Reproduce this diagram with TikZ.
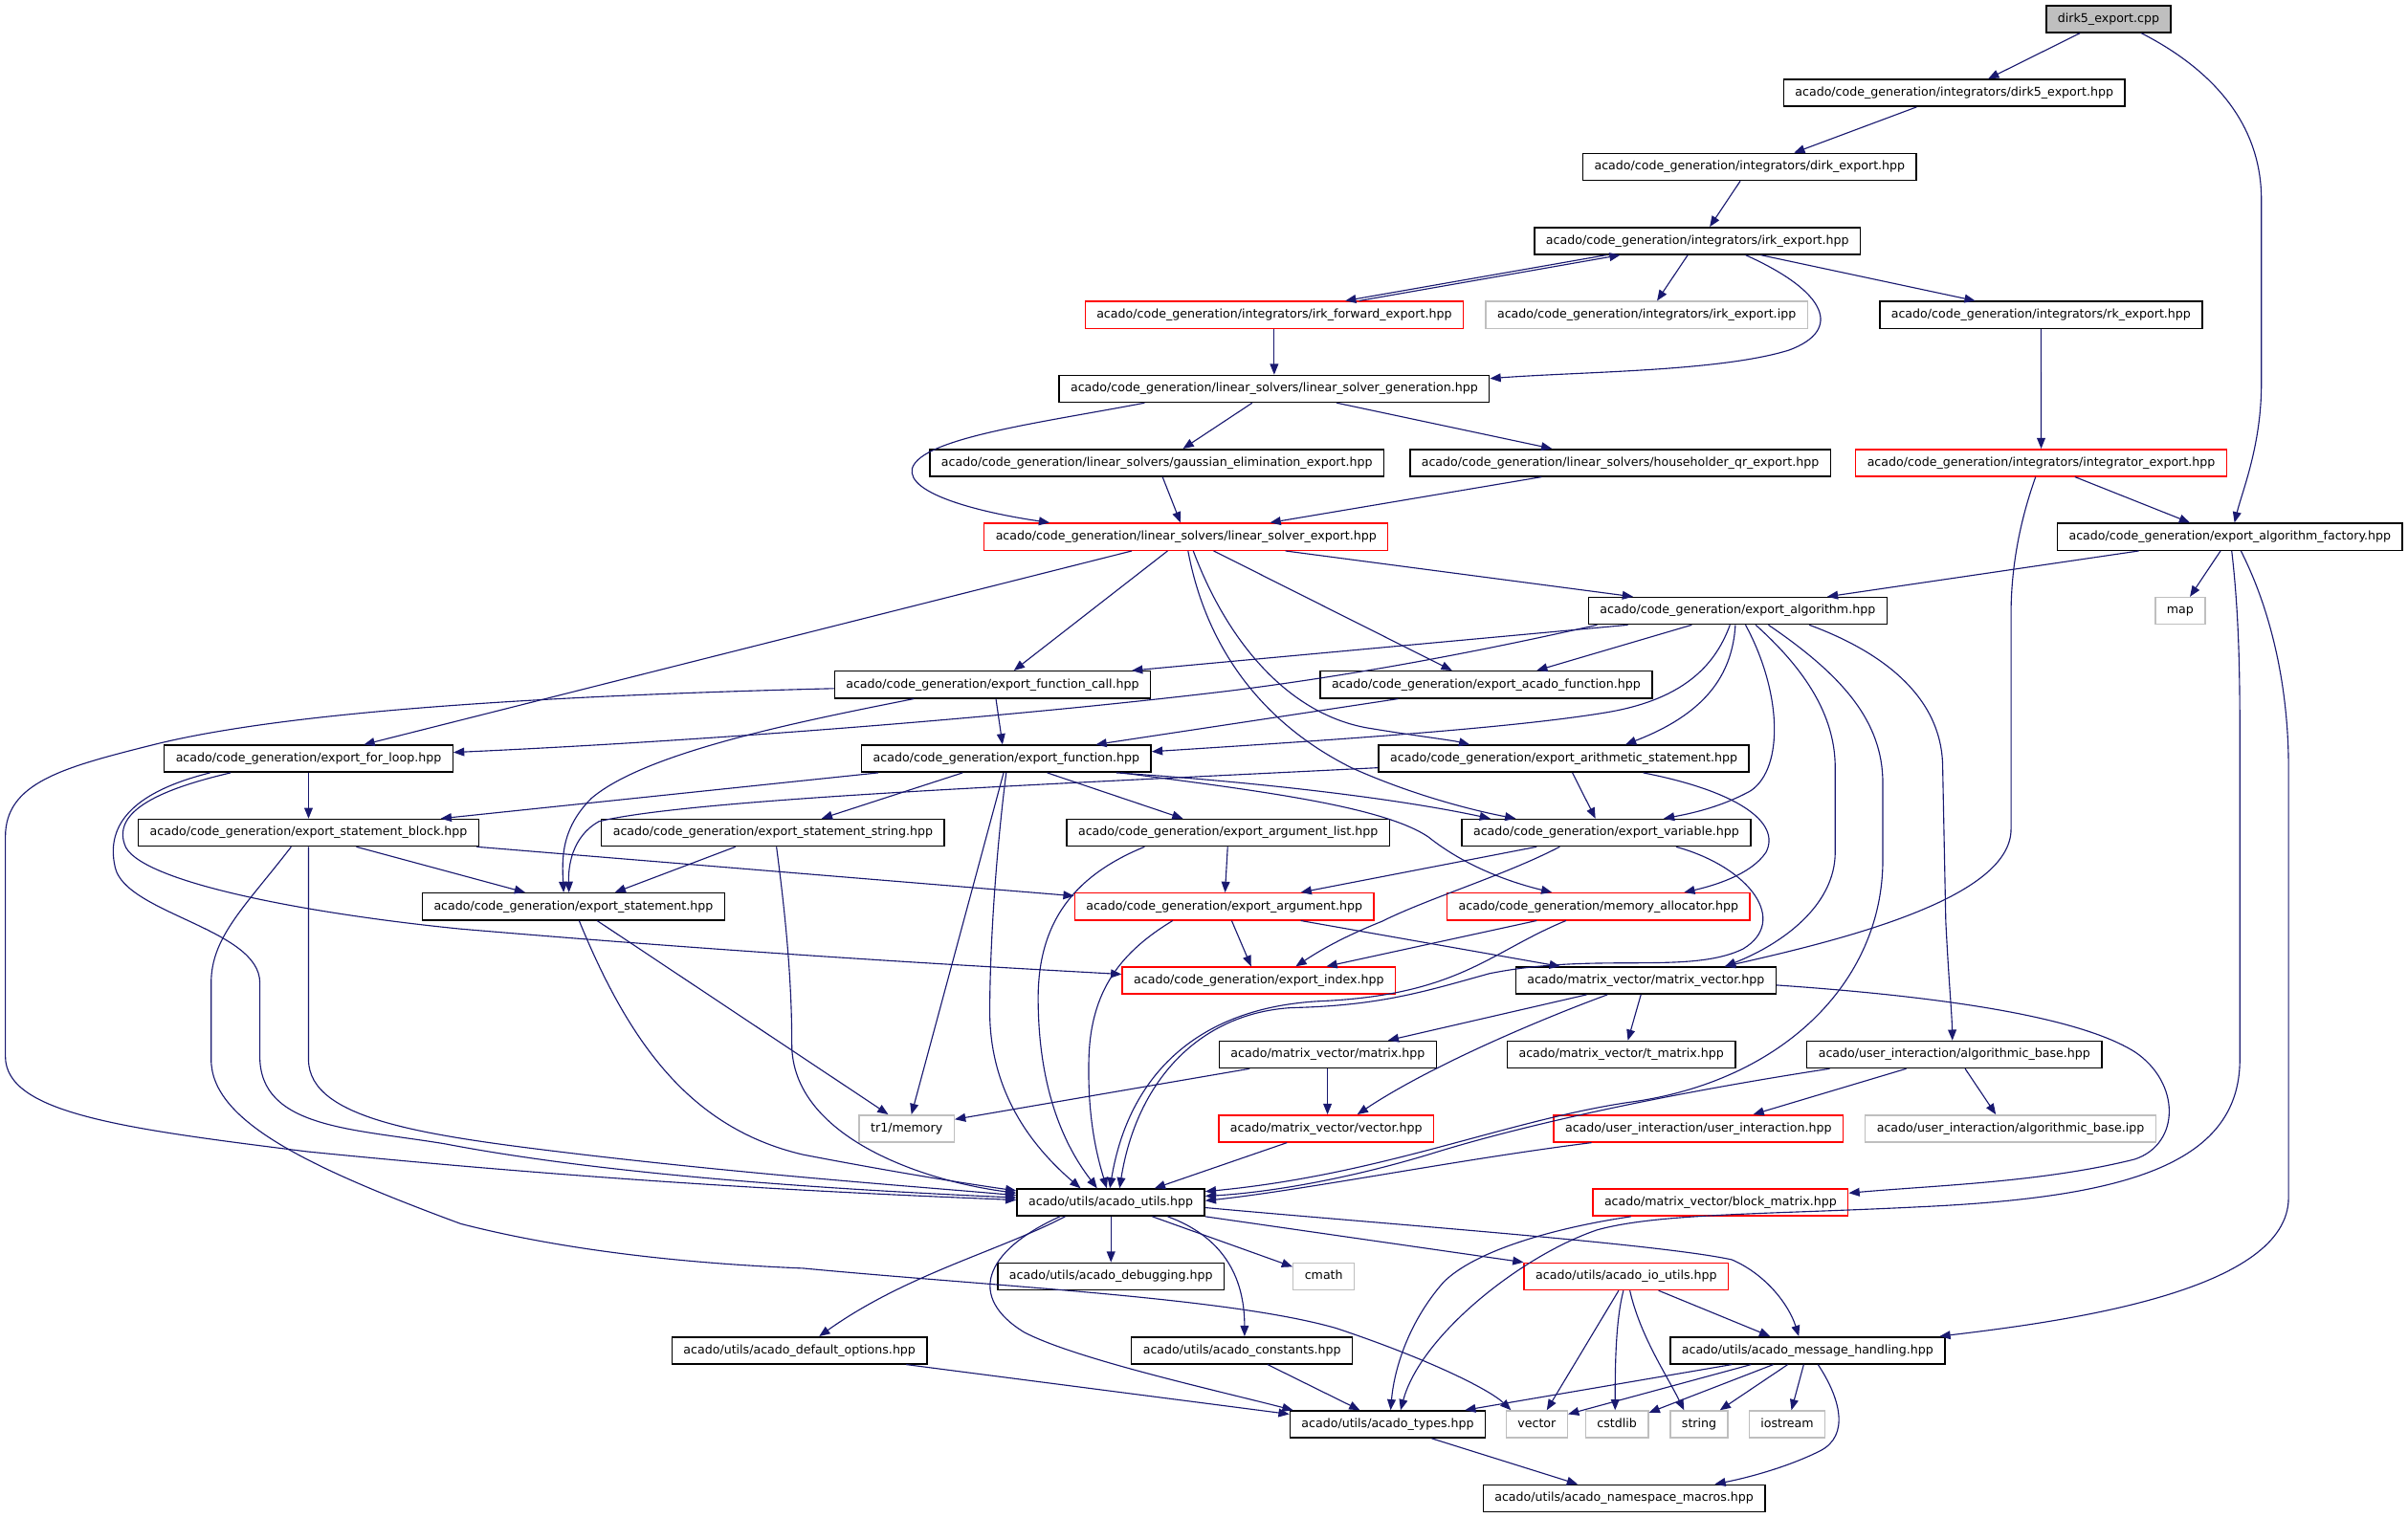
\documentclass[tikz,border=0pt]{standalone}
\usepackage{fontspec}
\setmainfont{DejaVu Sans}
\usetikzlibrary{arrows.meta}
\definecolor{edgec}{HTML}{191970}
\definecolor{grayb}{HTML}{BFBFBF}
\begin{document}
\begin{tikzpicture}[x=1pt,y=1pt,
  nd/.style={draw=black, line width=0.9pt, rectangle, inner xsep=7.5pt, inner ysep=0pt,
    minimum height=17.5pt, text height=6pt, text depth=1.9pt,
    font=\fontsize{7.85}{9}\selectfont, text=black, anchor=center},
  rd/.style={nd, draw=red},
  gr/.style={nd, draw=grayb},
  rootnd/.style={nd, fill=grayb},
  e/.style={draw=edgec, line width=0.7pt, -{Triangle[length=7pt,width=5.5pt]}}]
\fill[white] (0,0) rectangle (1568,-988.6);
\useasboundingbox (0,0) rectangle (1568,-988.6);

% ---------- nodes ----------
\node[rootnd] (cpp) at (1373,-12.4) {dirk5\_export.cpp};
\node[nd] (dirk5) at (1272.5,-60.5) {acado/code\_generation/integrators/dirk5\_export.hpp};
\node[nd] (dirk) at (1139.3,-108.7) {acado/code\_generation/integrators/dirk\_export.hpp};
\node[nd] (irk) at (1105.3,-156.9) {acado/code\_generation/integrators/irk\_export.hpp};
\node[rd] (irkfwd) at (829.7,-205.1) {acado/code\_generation/integrators/irk\_forward\_export.hpp};
\node[gr] (irkipp) at (1072.2,-205.1) {acado/code\_generation/integrators/irk\_export.ipp};
\node[nd] (rk) at (1329,-205.1) {acado/code\_generation/integrators/rk\_export.hpp};
\node[nd] (lsg) at (829.7,-253.2) {acado/code\_generation/linear\_solvers/linear\_solver\_generation.hpp};
\node[nd] (gauss) at (753.3,-301.4) {acado/code\_generation/linear\_solvers/gaussian\_elimination\_export.hpp};
\node[nd] (house) at (1055,-301.4) {acado/code\_generation/linear\_solvers/householder\_qr\_export.hpp};
\node[rd] (integ) at (1329.1,-301.4) {acado/code\_generation/integrators/integrator\_export.hpp};
\node[rd] (lse) at (772.3,-349.6) {acado/code\_generation/linear\_solvers/linear\_solver\_export.hpp};
\node[nd] (factory) at (1452,-349.6) {acado/code\_generation/export\_algorithm\_factory.hpp};
\node[nd] (alg) at (1131.5,-397.8) {acado/code\_generation/export\_algorithm.hpp};
\node[gr] (map) at (1419.6,-397.8) {map};
\node[nd] (fcall) at (646.3,-445.9) {acado/code\_generation/export\_function\_call.hpp};
\node[nd] (acadofn) at (967.7,-445.9) {acado/code\_generation/export\_acado\_function.hpp};
\node[nd] (forloop) at (200.9,-494.1) {acado/code\_generation/export\_for\_loop.hpp};
\node[nd] (func) at (655.3,-494.1) {acado/code\_generation/export\_function.hpp};
\node[nd] (arith) at (1018.3,-494.1) {acado/code\_generation/export\_arithmetic\_statement.hpp};
\node[nd] (block) at (200.9,-542.3) {acado/code\_generation/export\_statement\_block.hpp};
\node[nd] (sstring) at (503.3,-542.3) {acado/code\_generation/export\_statement\_string.hpp};
\node[nd] (arglist) at (799.7,-542.3) {acado/code\_generation/export\_argument\_list.hpp};
\node[nd] (var) at (1045.9,-542.3) {acado/code\_generation/export\_variable.hpp};
\node[nd] (stmt) at (373.4,-590.4) {acado/code\_generation/export\_statement.hpp};
\node[rd] (arg) at (797.2,-590.4) {acado/code\_generation/export\_argument.hpp};
\node[rd] (memalloc) at (1040.9,-590.4) {acado/code\_generation/memory\_allocator.hpp};
\node[rd] (index) at (819.7,-638.6) {acado/code\_generation/export\_index.hpp};
\node[nd] (mv) at (1071.7,-638.6) {acado/matrix\_vector/matrix\_vector.hpp};
\node[nd] (matrix) at (864.6,-686.8) {acado/matrix\_vector/matrix.hpp};
\node[nd] (tmatrix) at (1055.7,-686.8) {acado/matrix\_vector/t\_matrix.hpp};
\node[nd] (algbase) at (1272.6,-686.8) {acado/user\_interaction/algorithmic\_base.hpp};
\node[gr] (tr1) at (590.4,-735) {tr1/memory};
\node[rd] (vec) at (863.6,-735) {acado/matrix\_vector/vector.hpp};
\node[rd] (uinter) at (1105.9,-735) {acado/user\_interaction/user\_interaction.hpp};
\node[gr] (algipp) at (1309.2,-735) {acado/user\_interaction/algorithmic\_base.ipp};
\node[nd] (utils) at (723.3,-783.1) {acado/utils/acado\_utils.hpp};
\node[rd] (blockm) at (1120.3,-783.1) {acado/matrix\_vector/block\_matrix.hpp};
\node[nd] (debug) at (723.4,-831.3) {acado/utils/acado\_debugging.hpp};
\node[gr] (cmath) at (862,-831.3) {cmath};
\node[rd] (ioutils) at (1059,-831.3) {acado/utils/acado\_io\_utils.hpp};
\node[nd] (defopts) at (520.6,-879.5) {acado/utils/acado\_default\_options.hpp};
\node[nd] (consts) at (808.7,-879.5) {acado/utils/acado\_constants.hpp};
\node[nd] (msg) at (1177,-879.5) {acado/utils/acado\_message\_handling.hpp};
\node[nd] (types) at (903.6,-927.6) {acado/utils/acado\_types.hpp};
\node[gr] (vector) at (1000.7,-927.6) {vector};
\node[gr] (cstdlib) at (1052.9,-927.6) {cstdlib};
\node[gr] (string) at (1106.4,-927.6) {string};
\node[gr] (iostream) at (1163.7,-927.6) {iostream};
\node[nd] (nsmacros) at (1057.5,-975.8) {acado/utils/acado\_namespace\_macros.hpp};

% ---------- edges ----------
\draw[e] (cpp.south -| 1354.4,0) -- (dirk5.north -| 1294.6,0);
\draw[e] (cpp.south -| 1394.4,0) .. controls (1440,-45) and (1472.5,-80) .. (1472.5,-130) -- (1472.5,-250) .. controls (1472.5,-290) and (1460,-320) .. (factory.north -| 1455,0);
\draw[e] (dirk5.south -| 1248,0) -- (dirk.north -| 1168.2,0);
\draw[e] (dirk.south -| 1133.2,0) -- (irk.north -| 1113.3,0);
\draw[e] (irk.south -| 1046,0) -- (irkfwd.north -| 876,0);
\draw[e] (irkfwd.north -| 885,0) -- (irk.south -| 1055,0);
\draw[e] (irk.south -| 1099,0) -- (irkipp.north -| 1079,0);
\draw[e] (irk.south -| 1146.5,0) -- (rk.north -| 1286.2,0);
\draw[e] (irk.south -| 1136.6,0) .. controls (1190,-190) and (1200,-215) .. (1165,-228) .. controls (1120,-242) and (1030,-242) .. (lsg.east |- 0,-246.5);
\draw[e] (irkfwd.south) -- (lsg.north);
\draw[e] (rk.south) -- (integ.north);
\draw[e] (lsg.south -| 815.4,0) -- (gauss.north -| 770.3,0);
\draw[e] (lsg.south -| 870.4,0) -- (house.north -| 1010.6,0);
\draw[e] (lsg.south -| 745.3,0) .. controls (680,-275) and (600,-285) .. (594,-305) .. controls (590,-322) and (640,-334) .. (lse.north -| 683.5,0);
\draw[e] (gauss.south -| 757,0) -- (lse.north -| 768.7,0);
\draw[e] (house.south -| 1003.9,0) -- (lse.north -| 827,0);
\draw[e] (integ.south -| 1351.1,0) -- (factory.north -| 1426,0);
\draw[e] (integ.south -| 1325.5,0) .. controls (1315,-340) and (1309.5,-370) .. (1309.5,-400) -- (1309.5,-540) .. controls (1309.5,-585) and (1200,-612) .. (mv.north -| 1123,0);
\draw[e] (factory.south -| 1392.7,0) -- (alg.north -| 1189.8,0);
\draw[e] (factory.south -| 1445.9,0) -- (map.north -| 1426,0);
\draw[e] (factory.south -| 1453.2,0) .. controls (1458,-400) and (1458.5,-440) .. (1458.5,-480) -- (1458.5,-690) .. controls (1458.5,-760) and (1380,-780) .. (1250,-786) .. controls (1150,-791) and (1080,-790) .. (1040,-801) .. controls (990,-818) and (925,-870) .. (types.north -| 912,0);
\draw[e] (factory.south -| 1459.2,0) .. controls (1480,-400) and (1490.2,-450) .. (1490.2,-500) -- (1490.2,-780) .. controls (1490.2,-840) and (1350,-860) .. (msg.north -| 1263,0);
\draw[e] (lse.south -| 737,0) -- (forloop.north -| 237,0);
\draw[e] (lse.south -| 760.3,0) -- (fcall.north -| 660.2,0);
\draw[e] (lse.south -| 773.6,0) .. controls (785,-420) and (820,-470) .. (880,-500) .. controls (920,-518) and (960,-528) .. (var.north -| 987,0);
\draw[e] (lse.south -| 777,0) .. controls (800,-420) and (840,-465) .. (890,-474) .. controls (920,-479) and (945,-482) .. (arith.north -| 957,0);
\draw[e] (lse.south -| 790.3,0) -- (acadofn.north -| 945.5,0);
\draw[e] (lse.south -| 837,0) -- (alg.north -| 1063.4,0);
\draw[e] (alg.south -| 1060,0) -- (fcall.north -| 737,0);
\draw[e] (alg.south -| 1101.6,0) -- (acadofn.north -| 1000.6,0);
\draw[e] (alg.south -| 1040,0) .. controls (960,-425) and (880,-440) .. (800,-450) .. controls (650,-468) and (450,-483) .. (forloop.east |- 0,-490);
\draw[e] (alg.south -| 1126.5,0) .. controls (1118,-430) and (1100,-455) .. (1046,-464) .. controls (980,-475) and (850,-483) .. (func.east |- 0,-489.5);
\draw[e] (alg.south -| 1130,0) .. controls (1128,-440) and (1110,-465) .. (arith.north -| 1058.4,0);
\draw[e] (alg.south -| 1136.6,0) .. controls (1160,-450) and (1162,-500) .. (1140,-515) .. controls (1120,-526) and (1100,-530) .. (var.north -| 1083.3,0);
\draw[e] (alg.south -| 1143.2,0) .. controls (1180,-440) and (1195,-470) .. (1195,-500) -- (1195,-555) .. controls (1195,-590) and (1160,-615) .. (mv.north -| 1123.2,0);
\draw[e] (alg.south -| 1151.5,0) .. controls (1200,-440) and (1226,-470) .. (1226,-510) -- (1226,-560) .. controls (1226,-640) and (1160,-705) .. (1060,-718) .. controls (980,-730) and (900,-765) .. (utils.east |- 0,-776);
\draw[e] (alg.south -| 1178.1,0) .. controls (1235,-428) and (1265,-460) .. (1265,-500) -- (1267,-600) .. controls (1269,-640) and (1271,-660) .. (algbase.north -| 1271.3,0);
\draw[e] (fcall.south -| 648.5,0) -- (func.north -| 652.8,0);
\draw[e] (fcall.south -| 595.1,0) .. controls (520,-470) and (420,-490) .. (385,-520) .. controls (365,-540) and (366,-560) .. (stmt.north -| 367,0);
\draw[e] (fcall.west |- 0,-448.4) .. controls (400,-452) and (200,-460) .. (100,-485) .. controls (40,-500) and (3.5,-510) .. (3.5,-545) -- (3.5,-688) .. controls (3.5,-725) and (80,-735) .. (200,-750) .. controls (400,-770) and (550,-777) .. (utils.west |- 0,-781.5);
\draw[e] (acadofn.south -| 910.5,0) -- (func.north -| 713.6,0);
\draw[e] (forloop.south) -- (block.north);
\draw[e] (forloop.south -| 150.2,0) .. controls (100,-515) and (72,-530) .. (82,-552) .. controls (95,-575) and (200,-595) .. (300,-605) .. controls (500,-622) and (650,-630) .. (index.west |- 0,-634.5);
\draw[e] (forloop.south -| 136.8,0) .. controls (90,-515) and (68,-535) .. (75,-565) .. controls (82,-595) and (169.2,-605) .. (169.2,-640) -- (169.2,-688) .. controls (169.2,-735) and (230,-735) .. (290,-745) .. controls (400,-766) and (550,-775) .. (utils.west |- 0,-780);
\draw[e] (func.south -| 571.8,0) -- (block.north -| 287,0);
\draw[e] (func.south -| 626.8,0) -- (sstring.north -| 535,0);
\draw[e] (func.south -| 681.9,0) -- (arglist.north -| 770.3,0);
\draw[e] (func.south -| 726.9,0) .. controls (800,-508) and (900,-518) .. (var.north -| 970.5,0);
\draw[e] (func.south -| 730.2,0) .. controls (820,-515) and (900,-525) .. (930,-545) .. controls (955,-565) and (985,-575) .. (memalloc.north -| 1010.6,0);
\draw[e] (func.south -| 653.5,0) -- (tr1.north -| 593.5,0);
\draw[e] (func.south -| 655.2,0) .. controls (648,-560) and (644.5,-620) .. (644.5,-660) .. controls (645,-710) and (670,-745) .. (utils.north -| 703.6,0);
\draw[e] (arith.west |- 0,-500) .. controls (700,-510) and (450,-520) .. (390,-535) .. controls (372,-545) and (370,-565) .. (stmt.north -| 370.5,0);
\draw[e] (arith.south -| 1023.9,0) -- (var.north -| 1038.9,0);
\draw[e] (arith.south -| 1070,0) .. controls (1130,-515) and (1160,-535) .. (1150,-555) .. controls (1140,-570) and (1115,-577) .. (memalloc.north -| 1096.6,0);
\draw[e] (block.south -| 232,0) -- (stmt.north -| 342,0);
\draw[e] (block.south -| 310.4,0) -- (arg.west |- 0,-583.5);
\draw[e] (block.south) -- (200.9,-690) .. controls (200.9,-730) and (280,-740) .. (380,-752) .. controls (500,-766) and (600,-773) .. (utils.west |- 0,-778.5);
\draw[e] (block.south -| 189.6,0) .. controls (160,-590) and (137.5,-610) .. (137.5,-640) -- (137.5,-690) .. controls (137.5,-730) and (200,-760) .. (300,-797) .. controls (370,-815) and (450,-823) .. (523,-826) .. controls (650,-838) and (800,-845) .. (870,-865) .. controls (930,-885) and (970,-905) .. (vector.north -| 983.9,0);
\draw[e] (sstring.south -| 478.9,0) -- (stmt.north -| 400.4,0);
\draw[e] (sstring.south -| 505.6,0) .. controls (512,-600) and (515.6,-640) .. (515.6,-680) .. controls (515.6,-740) and (600,-769) .. (utils.west |- 0,-777);
\draw[e] (arglist.south -| 799.4,0) -- (arg.north -| 797.7,0);
\draw[e] (arglist.south -| 745.3,0) .. controls (700,-570) and (676,-600) .. (676,-650) .. controls (676,-720) and (700,-755) .. (utils.north -| 714.4,0);
\draw[e] (var.south -| 1000.6,0) -- (arg.north -| 847,0);
\draw[e] (var.south -| 1015.6,0) .. controls (980,-570) and (930,-585) .. (900,-600) .. controls (870,-612) and (855,-622) .. (index.north -| 843.7,0);
\draw[e] (var.south -| 1091.4,0) .. controls (1140,-565) and (1165,-600) .. (1135,-618) .. controls (1100,-635) and (1040,-620) .. (970,-634) .. controls (930,-645) and (900,-655) .. (841,-656.3) .. controls (780,-660) and (740,-705) .. (utils.north -| 729,0);
\draw[e] (stmt.south -| 377.1,0) .. controls (410,-680) and (450,-735) .. (523,-752) .. controls (580,-763) and (630,-771) .. (utils.west |- 0,-775.5);
\draw[e] (stmt.south -| 388.8,0) -- (tr1.north -| 578.4,0);
\draw[e] (arg.south -| 802,0) -- (index.north -| 814.7,0);
\draw[e] (arg.south -| 847,0) -- (mv.north -| 1016,0);
\draw[e] (arg.south -| 763.6,0) .. controls (730,-620) and (710,-645) .. (709,-690) .. controls (708,-730) and (715,-755) .. (utils.north -| 720.7,0);
\draw[e] (memalloc.south -| 1000.6,0) -- (index.north -| 863.7,0);
\draw[e] (memalloc.south -| 1019.7,0) .. controls (970,-620) and (950,-648) .. (860,-652) .. controls (780,-656) and (735,-700) .. (utils.north -| 722.7,0);
\draw[e] (mv.south -| 1033.2,0) -- (matrix.north -| 903.8,0);
\draw[e] (mv.south -| 1068.5,0) -- (tmatrix.north -| 1060,0);
\draw[e] (mv.south -| 1046.7,0) .. controls (1000,-665) and (930,-695) .. (vec.north -| 883.8,0);
\draw[e] (mv.east |- 0,-641.6) .. controls (1250,-648) and (1350,-660) .. (1390,-685) .. controls (1420,-705) and (1420,-745) .. (1390,-755) .. controls (1330,-770) and (1260,-772) .. (blockm.east |- 0,-777);
\draw[e] (matrix.south -| 813.7,0) -- (tr1.east |- 0,-729);
\draw[e] (matrix.south -| 864.4,0) -- (vec.north -| 864.4,0);
\draw[e] (vec.south -| 838,0) -- (utils.north -| 751.8,0);
\draw[e] (algbase.south -| 1241.3,0) -- (uinter.north -| 1141.6,0);
\draw[e] (algbase.south -| 1279.6,0) -- (algipp.north -| 1299.6,0);
\draw[e] (algbase.south -| 1191.4,0) .. controls (1100,-710) and (1000,-730) .. (930,-752) .. controls (870,-770) and (820,-777) .. (utils.east |- 0,-779);
\draw[e] (uinter.south -| 1036.3,0) .. controls (950,-755) and (850,-775) .. (utils.east |- 0,-782);
\draw[e] (blockm.south -| 1062,0) .. controls (1010,-800) and (960,-815) .. (940,-835) .. controls (918,-860) and (908,-890) .. (types.north -| 905.5,0);
\draw[e] (utils.south -| 723.4,0) -- (debug.north);
\draw[e] (utils.south -| 750.3,0) -- (cmath.west |- 0,-825);
\draw[e] (utils.south east) -- (ioutils.north west);
\draw[e] (utils.south -| 693.6,0) .. controls (650,-815) and (590,-830) .. (defopts.north -| 533.4,0);
\draw[e] (utils.south -| 760.3,0) .. controls (795,-805) and (810.4,-830) .. (consts.north -| 810.4,0);
\draw[e] (utils.south -| 690.2,0) .. controls (640,-815) and (630,-845) .. (666.8,-867.6) .. controls (700,-885) and (790,-905) .. (types.north -| 842,0);
\draw[e] (utils.east |- 0,-786.5) .. controls (900,-797) and (1080,-810) .. (1127.7,-820.4) .. controls (1150,-830) and (1165,-850) .. (msg.north -| 1171.3,0);
\draw[e] (ioutils.south -| 1054,0) -- (vector.north -| 1007.2,0);
\draw[e] (ioutils.south -| 1057.1,0) .. controls (1052,-860) and (1051.7,-890) .. (cstdlib.north -| 1051.7,0);
\draw[e] (ioutils.south -| 1061.3,0) .. controls (1068,-870) and (1085,-895) .. (string.north -| 1096.6,0);
\draw[e] (ioutils.south -| 1080,0) -- (msg.north -| 1152.6,0);
\draw[e] (defopts.south -| 590.1,0) -- (types.west |- 0,-921);
\draw[e] (consts.south -| 825.4,0) -- (types.north -| 885.5,0);
\draw[e] (msg.south -| 1127.7,0) -- (types.north -| 953.9,0);
\draw[e] (msg.south -| 1140.2,0) -- (vector.east |- 0,-921);
\draw[e] (msg.south -| 1154.7,0) -- (cstdlib.east |- 0,-920);
\draw[e] (msg.south -| 1164.1,0) -- (string.north -| 1119.9,0);
\draw[e] (msg.south -| 1174.5,0) -- (iostream.north -| 1166.5,0);
\draw[e] (msg.south -| 1183.8,0) .. controls (1198,-910) and (1205,-935) .. (1185,-945) .. controls (1165,-955) and (1140,-962) .. (nsmacros.north -| 1116.6,0);
\draw[e] (types.south -| 932.2,0) -- (nsmacros.north -| 1027.3,0);
\end{tikzpicture}
\end{document}
